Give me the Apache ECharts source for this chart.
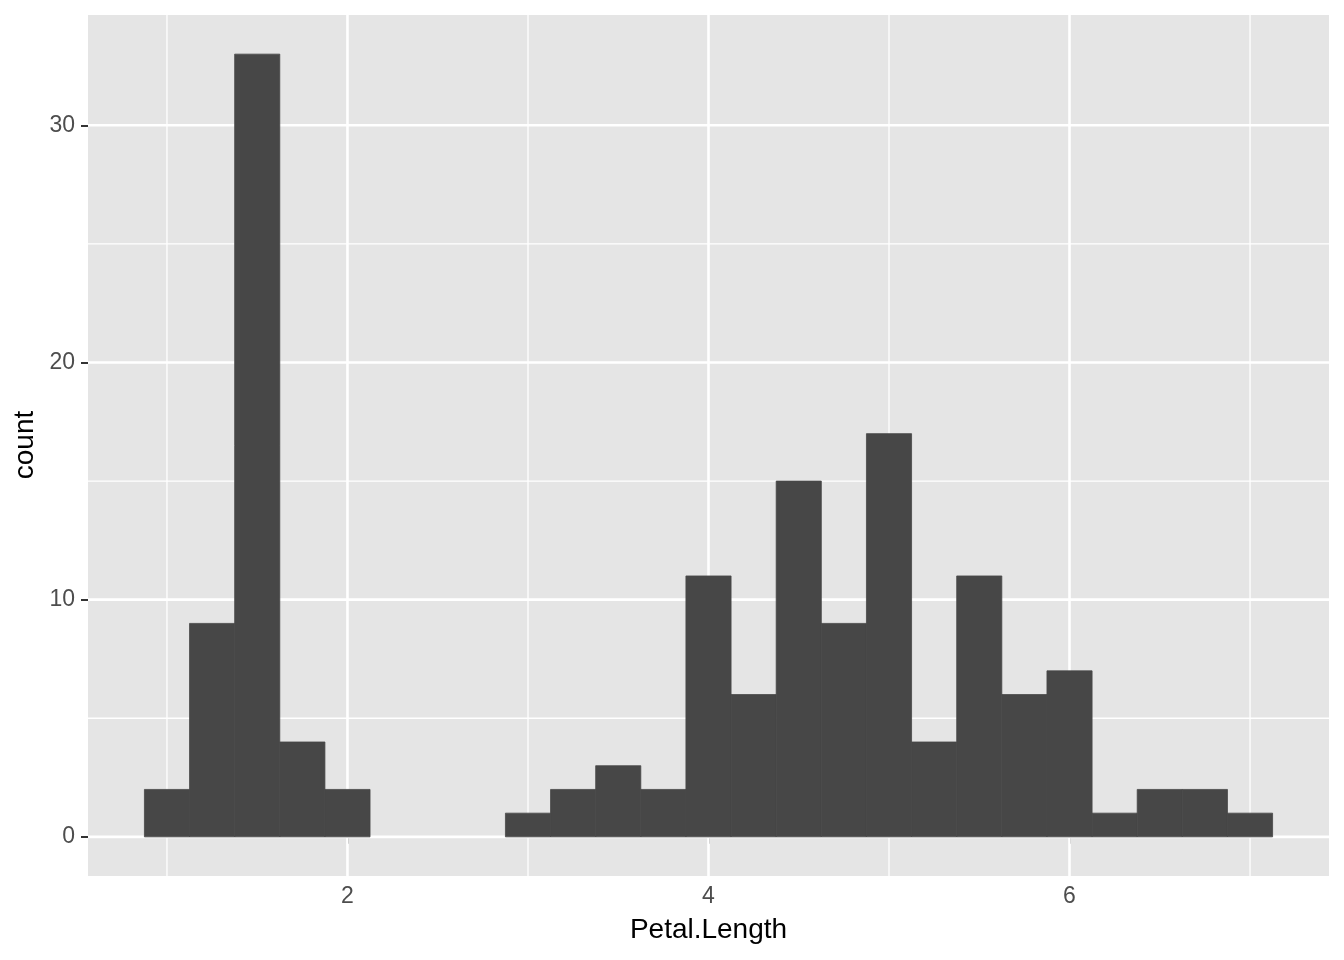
<!DOCTYPE html>
<html>
<head>
<meta charset="utf-8">
<script src="https://cdn.jsdelivr.net/npm/echarts@6/dist/echarts.min.js"></script>
<style>
  html, body { margin: 0; padding: 0; background: #ffffff; }
  #chart { width: 1344px; height: 960px; }
</style>
</head>
<body>
<div id="chart"></div>
<script>
// ---- data (iris Petal.Length histogram, binwidth 0.25) ----
const binCenters = [1.00, 1.25, 1.50, 1.75, 2.00, 2.25, 2.50, 2.75, 3.00, 3.25, 3.50, 3.75,
                    4.00, 4.25, 4.50, 4.75, 5.00, 5.25, 5.50, 5.75, 6.00, 6.25, 6.50, 6.75, 7.00];
const counts     = [2, 9, 33, 4, 2, 0, 0, 0, 1, 2, 3, 2,
                    11, 6, 15, 9, 17, 4, 11, 6, 7, 1, 2, 2, 1];
const binWidth = 0.25;
const xTicks = [2, 4, 6];
const xMinorLines = [1, 3, 5, 7];
const yTicks = [0, 10, 20, 30];
const yMinorLines = [5, 15, 25];
const xTitle = 'Petal.Length';
const yTitle = 'count';

// axis range with ggplot-style 5% expansion
const xLo = binCenters[0] - binWidth / 2, xHi = binCenters[binCenters.length - 1] + binWidth / 2;
const yMaxData = Math.max.apply(null, counts);
const xPad = (xHi - xLo) * 0.05, yPad = yMaxData * 0.05;

const bg = '#E5E5E5';
const barColor = '#474747';
const font = '"Liberation Sans", Arial, Helvetica, sans-serif';

const chart = echarts.init(document.getElementById('chart'), null, { renderer: 'canvas' });

// grid line data: [value, orientation(0=vertical,1=horizontal), major(1)/minor(0)]
const gridLines = [];
xMinorLines.forEach(v => gridLines.push([v, 0, 0]));
yMinorLines.forEach(v => gridLines.push([v, 1, 0]));
xTicks.forEach(v => gridLines.push([v, 0, 1]));
yTicks.forEach(v => gridLines.push([v, 1, 1]));

const option = {
  backgroundColor: '#ffffff',
  animation: false,
  grid: {
    left: 88, right: 15, top: 15, bottom: 84,
    show: true, backgroundColor: bg, borderWidth: 0
  },
  xAxis: {
    type: 'value',
    min: xLo - xPad, max: xHi + xPad,
    splitLine: { show: false },
    axisLine: { show: false },
    axisTick: { show: true, customValues: xTicks, length: 7, lineStyle: { color: '#333333', width: 2 } },
    axisLabel: { customValues: xTicks, margin: 9, color: '#4D4D4D', fontSize: 23, fontFamily: font }
  },
  yAxis: {
    type: 'value',
    min: -yPad, max: yMaxData + yPad,
    splitLine: { show: false },
    axisLine: { show: false },
    axisTick: { show: true, customValues: yTicks, length: 7, lineStyle: { color: '#333333', width: 2 } },
    axisLabel: { customValues: yTicks, margin: 13, color: '#4D4D4D', fontSize: 23, fontFamily: font }
  },
  graphic: [
    { type: 'text', x: 708.5, y: 930, z: 10,
      style: { text: xTitle, fill: '#000000', font: '28px ' + font, textAlign: 'center', textVerticalAlign: 'middle' } },
    { type: 'text', x: 25, y: 445, rotation: Math.PI / 2, z: 10,
      style: { text: yTitle, fill: '#000000', font: '28px ' + font, textAlign: 'center', textVerticalAlign: 'middle' } }
  ],
  series: [
    {
      type: 'custom',
      z: 1,
      silent: true,
      data: gridLines,
      renderItem: function (params, api) {
        const cs = params.coordSys;
        const v = api.value(0), ori = api.value(1), major = api.value(2);
        let shape;
        if (ori === 0) {
          const x = api.coord([v, 0])[0];
          shape = { x1: x, y1: cs.y, x2: x, y2: cs.y + cs.height };
        } else {
          const y = api.coord([0, v])[1];
          shape = { x1: cs.x, y1: y, x2: cs.x + cs.width, y2: y };
        }
        return {
          type: 'line',
          shape: shape,
          style: { stroke: '#ffffff', lineWidth: major ? 2.6 : 1.3 }
        };
      }
    },
    {
      type: 'custom',
      z: 2,
      data: binCenters.map((c, i) => [c, counts[i]]),
      renderItem: function (params, api) {
        const c = api.value(0), n = api.value(1);
        if (!n) return null;
        const p0 = api.coord([c - binWidth / 2, 0]);
        const p1 = api.coord([c + binWidth / 2, n]);
        return {
          type: 'rect',
          shape: { x: p0[0], y: p1[1], width: p1[0] - p0[0], height: p0[1] - p1[1] },
          style: { fill: barColor, stroke: barColor, lineWidth: 0.8 }
        };
      }
    }
  ]
};
chart.setOption(option);
</script>
</body>
</html>
